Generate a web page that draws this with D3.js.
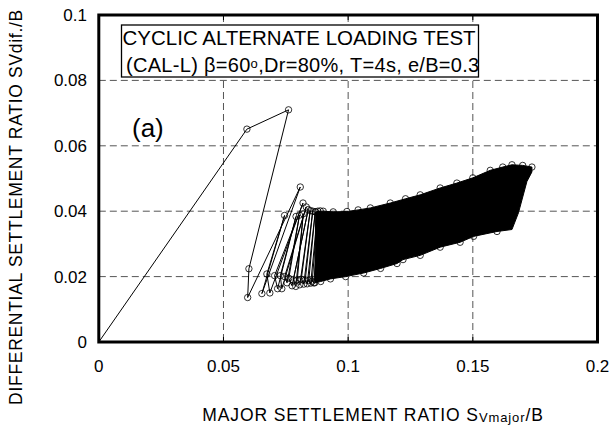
<!DOCTYPE html>
<html>

<head>
  <title>CAL-L settlement</title>
  <script src="https://cdn.jsdelivr.net/npm/d3@7/dist/d3.min.js"></script>
  <style>
    body { margin: 0; background: #fff; }
    text { font-family: "Liberation Sans", Arial, sans-serif; fill: #000; }
  </style>
</head>

<body>
  <svg width="611" height="430" id="mainsvg"></svg>
  <script>
    // tick values
    const xTicks = [0, 0.05, 0.1, 0.15, 0.2];
    const yTicks = [0, 0.02, 0.04, 0.06, 0.08, 0.1];

    // first cycles, turning points [Sv_major/B, Sv_dif/B]
    const firstCycles = [
      [0, 0], [0.0594, 0.0651], [0.0761, 0.0710], [0.0602, 0.0224], [0.0597, 0.0136],
      [0.0808, 0.0474], [0.0654, 0.0148], [0.0745, 0.0387], [0.0674, 0.0208], [0.0686, 0.0150],
      [0.0819, 0.0425], [0.0705, 0.0203], [0.0717, 0.0163], [0.0791, 0.0384], [0.0728, 0.0203],
      [0.0734, 0.0163], [0.0832, 0.0413], [0.0745, 0.0200], [0.0755, 0.0181], [0.0805, 0.0388],
      [0.0762, 0.0195], [0.0775, 0.0172], [0.0840, 0.0405], [0.0780, 0.0190], [0.0790, 0.0170],
      [0.0820, 0.0392], [0.0796, 0.0190], [0.0806, 0.0175], [0.0848, 0.0402], [0.0812, 0.0192],
      [0.0822, 0.0177], [0.0858, 0.0400], [0.0828, 0.0190], [0.0836, 0.0178], [0.0868, 0.0398],
      [0.0842, 0.0188], [0.0850, 0.0180], [0.0878, 0.0400], [0.0856, 0.0186], [0.0862, 0.0181],
      [0.0888, 0.0401]
    ];

    // later cycles overlap into a solid band: its upper edge, right end and lower edge
    const bandUpper = [
      [0.0870, 0.0398], [0.0900, 0.0400], [0.0940, 0.0398], [0.0995, 0.0399], [0.1040, 0.0404],
      [0.1089, 0.0410], [0.1169, 0.0425], [0.1230, 0.0438], [0.1289, 0.0450], [0.1369, 0.0471],
      [0.1436, 0.0486], [0.1500, 0.0502], [0.1570, 0.0525], [0.1620, 0.0535], [0.1657, 0.0542],
      [0.1700, 0.0540], [0.1737, 0.0535]
    ];
    const bandEnd = [[0.1737, 0.0520], [0.1717, 0.0491], [0.1683, 0.0395], [0.1657, 0.0344]];
    const bandLower = [
      [0.1597, 0.0338], [0.1503, 0.0323], [0.1449, 0.0305], [0.1369, 0.0290], [0.1289, 0.0265],
      [0.1220, 0.0252], [0.1196, 0.0240], [0.1130, 0.0225], [0.1062, 0.0211], [0.0990, 0.0200],
      [0.0929, 0.0193], [0.0890, 0.0185], [0.0866, 0.0181]
    ];

    const svg = d3.select('#mainsvg');
    const x = d3.scaleLinear().domain([0, 0.2]).range([98.8, 597.5]);
    const y = d3.scaleLinear().domain([0, 0.1]).range([342, 15]);

    // grid
    svg.append('g').selectAll('line').data(xTicks.slice(1, -1)).join('line')
      .attr('x1', d => x(d)).attr('x2', d => x(d))
      .attr('y1', y(0.1)).attr('y2', y(0))
      .attr('stroke', '#555').attr('stroke-dasharray', '7,4');
    svg.append('g').selectAll('line').data(yTicks.slice(1, -1)).join('line')
      .attr('x1', x(0)).attr('x2', x(0.2))
      .attr('y1', d => y(d)).attr('y2', d => y(d))
      .attr('stroke', '#555').attr('stroke-dasharray', '7,4');

    // small inner ticks top and bottom
    svg.append('g').selectAll('line').data(xTicks.slice(1, -1)).join('line')
      .attr('x1', d => x(d)).attr('x2', d => x(d))
      .attr('y1', y(0)).attr('y2', y(0) - 5).attr('stroke', '#000');
    svg.append('g').selectAll('line').data(xTicks.slice(1, -1)).join('line')
      .attr('x1', d => x(d)).attr('x2', d => x(d))
      .attr('y1', y(0.1)).attr('y2', y(0.1) + 5).attr('stroke', '#000');

    // band of overlapping cycles
    const bandPoly = bandUpper.concat(bandEnd, bandLower);
    svg.append('path')
      .attr('d', d3.line().x(d => x(d[0])).y(d => y(d[1]))(bandPoly) + 'Z')
      .attr('fill', '#000').attr('stroke', '#000').attr('stroke-width', 1);

    // first cycles
    svg.append('path')
      .attr('d', d3.line().x(d => x(d[0])).y(d => y(d[1]))(firstCycles))
      .attr('fill', 'none').attr('stroke', '#000').attr('stroke-width', 1);

    const markers = firstCycles.slice(1).concat(bandUpper, bandLower);
    svg.append('g').selectAll('circle').data(markers).join('circle')
      .attr('cx', d => x(d[0])).attr('cy', d => y(d[1]))
      .attr('r', 3.2).attr('fill', 'none').attr('stroke', '#000').attr('stroke-width', 0.8);

    // frame
    svg.append('rect')
      .attr('x', x(0)).attr('y', y(0.1))
      .attr('width', x(0.2) - x(0)).attr('height', y(0) - y(0.1))
      .attr('fill', 'none').attr('stroke', '#000').attr('stroke-width', 3);

    // tick labels
    svg.append('g').selectAll('text').data(xTicks).join('text')
      .attr('x', d => x(d)).attr('y', 372)
      .attr('text-anchor', 'middle').attr('font-size', 17)
      .text(d => d);
    svg.append('g').selectAll('text').data(yTicks).join('text')
      .attr('x', 87).attr('y', d => y(d) + 6)
      .attr('text-anchor', 'end').attr('font-size', 17)
      .text(d => d);

    // axis titles
    const xt = svg.append('text')
      .attr('x', 373).attr('y', 421)
      .attr('text-anchor', 'middle').attr('font-size', 17.5)
      .attr('letter-spacing', 0.9);
    xt.append('tspan').text('MAJOR SETTLEMENT RATIO S');
    xt.append('tspan').attr('font-size', 13).attr('dy', 1).text('Vmajor');
    xt.append('tspan').attr('dy', -1).text('/B');

    svg.append('text')
      .attr('transform', 'translate(22,207) rotate(-90)')
      .attr('text-anchor', 'middle').attr('font-size', 17.5)
      .attr('letter-spacing', 0.7)
      .text('DIFFERENTIAL SETTLEMENT RATIO SVdif./B');

    // legend box
    svg.append('rect')
      .attr('x', 121.5).attr('y', 25).attr('width', 357).attr('height', 52)
      .attr('fill', '#fff').attr('stroke', '#000').attr('stroke-width', 1.3);
    svg.append('text').attr('x', 122.5).attr('y', 45).attr('font-size', 20.5)
      .text('CYCLIC ALTERNATE LOADING TEST');
    const l2 = svg.append('text').attr('x', 126).attr('y', 72).attr('font-size', 20)
      .attr('letter-spacing', 0.3);
    l2.append('tspan').text('(CAL-L) \u03b2=60');
    l2.append('tspan').attr('font-size', 13).attr('dy', -4).text('o');
    l2.append('tspan').attr('dy', 4).text(',Dr=80%, T=4s, e/B=0.3');

    svg.append('text').attr('x', 132).attr('y', 137).attr('font-size', 26).text('(a)');
  </script>
</body>

</html>
